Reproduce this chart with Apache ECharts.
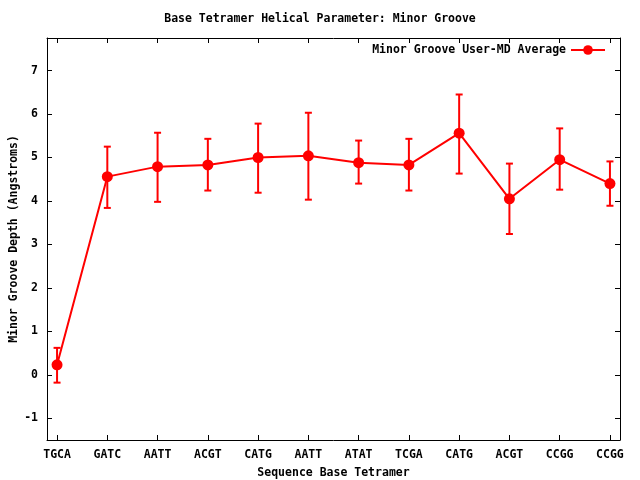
<!DOCTYPE html>
<html>
<head>
<meta charset="utf-8">
<script src="https://cdn.jsdelivr.net/npm/echarts@6/dist/echarts.min.js"></script>
<style>html,body{margin:0;padding:0;background:#fff;}#c{width:640px;height:480px;}</style>
</head>
<body>
<div id="c"></div>
<script>
const categories = ['TGCA','GATC','AATT','ACGT','CATG','AATT','ATAT','TCGA','CATG','ACGT','CCGG','CCGG'];
const means = [0.23, 4.56, 4.79, 4.83, 5.00, 5.04, 4.88, 4.83, 5.56, 4.05, 4.95, 4.40];
const errLow = [-0.18, 3.84, 3.98, 4.24, 4.19, 4.03, 4.40, 4.24, 4.63, 3.24, 4.26, 3.89];
const errHigh = [0.62, 5.25, 5.57, 5.43, 5.78, 6.03, 5.39, 5.43, 6.45, 4.86, 5.67, 4.91];
const yTicks = [-1, 0, 1, 2, 3, 4, 5, 6, 7];

const FONT = 'DejaVu Sans Mono';
const idx = categories.map((c, i) => i);
const lineData = means.map((v, i) => [i, v]);
const errData = means.map((v, i) => [i, errLow[i], errHigh[i]]);

const txt = {fontFamily: FONT, fontWeight: 'bold', fontSize: 11.5, color: '#000'};
const axisLine = {show: true, onZero: false, lineStyle: {color: '#000', width: 1}};

const chart = echarts.init(document.getElementById('c'), null, {renderer: 'canvas'});
chart.setOption({
  backgroundColor: '#fff',
  animation: false,
  title: {
    text: 'Base Tetramer Helical Parameter: Minor Groove',
    left: 'center', top: 8,
    textStyle: Object.assign({}, txt)
  },
  legend: {
    data: ['Minor Groove User-MD Average'],
    right: 29, top: 39,
    align: 'right',
    itemWidth: 34, itemHeight: 12, itemGap: 6,
    textStyle: Object.assign({}, txt)
  },
  grid: {left: 47, right: 20, top: 38, bottom: 40, containLabel: false, outerBoundsMode: 'none'},
  xAxis: [{
    type: 'value', min: -0.2, max: 11.2,
    axisLine: axisLine,
    axisTick: {show: true, inside: true, length: 5, customValues: idx, lineStyle: {color: '#000'}},
    axisLabel: {customValues: idx, margin: 9, formatter: v => categories[Math.round(v)], ...txt},
    splitLine: {show: false},
    name: 'Sequence Base Tetramer', nameLocation: 'middle', nameGap: 27, nameMoveOverlap: false,
    nameTextStyle: Object.assign({}, txt)
  }, {
    type: 'value', min: -0.2, max: 11.2, position: 'top',
    axisLine: axisLine,
    axisTick: {show: true, inside: true, length: 5, customValues: idx, lineStyle: {color: '#000'}},
    axisLabel: {show: false},
    splitLine: {show: false}
  }],
  yAxis: [{
    type: 'value', min: -1.5, max: 7.75,
    axisLine: axisLine,
    axisTick: {show: true, inside: true, length: 5, customValues: yTicks, lineStyle: {color: '#000'}},
    axisLabel: {customValues: yTicks, margin: 9, ...txt},
    splitLine: {show: false},
    name: 'Minor Groove Depth (Angstroms)', nameLocation: 'middle', nameGap: 27, nameMoveOverlap: false,
    nameTextStyle: Object.assign({}, txt)
  }, {
    type: 'value', min: -1.5, max: 7.75, position: 'right',
    axisLine: axisLine,
    axisTick: {show: true, inside: true, length: 5, customValues: yTicks, lineStyle: {color: '#000'}},
    axisLabel: {show: false},
    splitLine: {show: false}
  }],
  series: [{
    type: 'custom',
    name: 'err',
    xAxisIndex: 0, yAxisIndex: 0,
    data: errData,
    z: 2,
    renderItem: function (params, api) {
      const x = api.value(0);
      const p1 = api.coord([x, api.value(1)]);
      const p2 = api.coord([x, api.value(2)]);
      const w = 3.5;
      const st = {stroke: '#ff0000', lineWidth: 2};
      return {type: 'group', children: [
        {type: 'line', shape: {x1: p1[0], y1: p1[1], x2: p2[0], y2: p2[1]}, style: st},
        {type: 'line', shape: {x1: p1[0] - w, y1: p1[1], x2: p1[0] + w, y2: p1[1]}, style: st},
        {type: 'line', shape: {x1: p2[0] - w, y1: p2[1], x2: p2[0] + w, y2: p2[1]}, style: st}
      ]};
    }
  }, {
    type: 'line',
    name: 'Minor Groove User-MD Average',
    xAxisIndex: 0, yAxisIndex: 0,
    data: lineData,
    z: 3,
    symbol: 'circle', symbolSize: 11,
    itemStyle: {color: '#ff0000'},
    lineStyle: {color: '#ff0000', width: 2}
  }]
});
</script>
</body>
</html>
